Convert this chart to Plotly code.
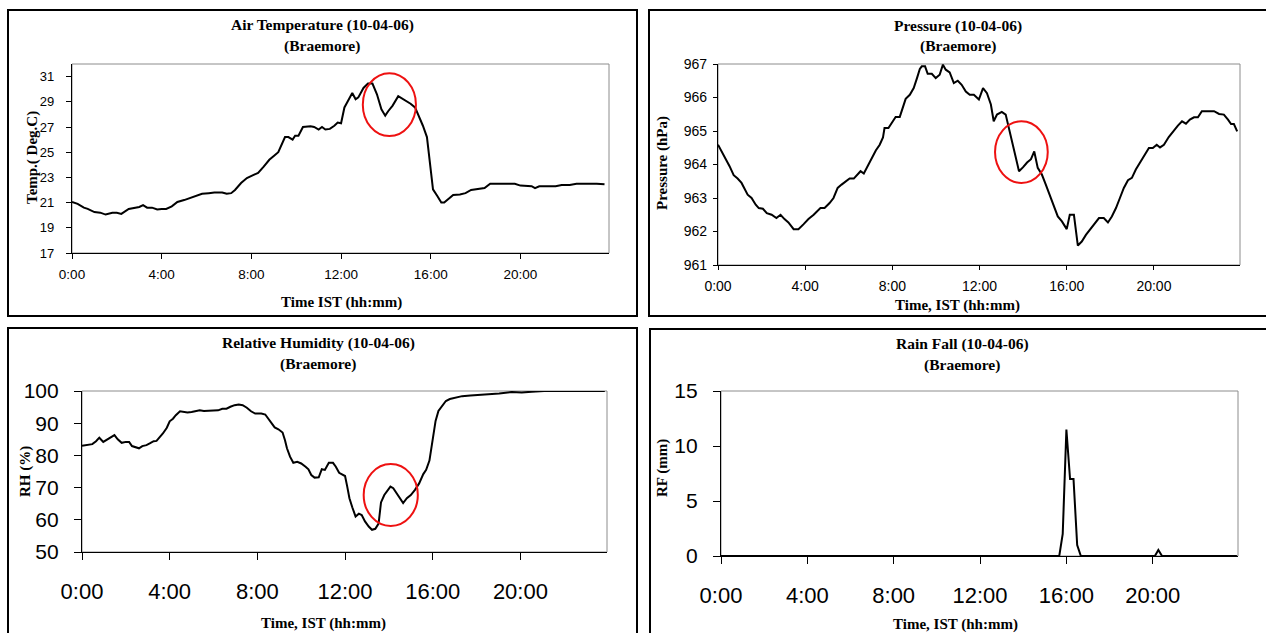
import plotly.graph_objects as go

W, H = 1266, 633

# ---- data (hours after midnight, IST) ----
temp_hours = [0, 0.25, 0.53, 0.7, 1.0, 1.26, 1.5, 1.8, 2.0, 2.2, 2.53, 2.8, 3.0, 3.17, 3.35, 3.57, 3.8, 4.0,
              4.2, 4.45, 4.7, 5.0, 5.26, 5.5, 5.8, 6.1, 6.35, 6.7, 6.9, 7.1, 7.27, 7.54, 7.8, 8.1, 8.3, 8.55,
              8.8, 9.0, 9.2, 9.5, 9.65, 9.84, 9.95, 10.1, 10.3, 10.64, 10.8, 11.0, 11.15, 11.3, 11.5, 11.7,
              11.85, 12.0, 12.15, 12.3, 12.5, 12.65, 12.77, 13.0, 13.2, 13.4, 13.6, 13.8, 13.97, 14.1, 14.3,
              14.55, 14.7, 14.9, 15.1, 15.3, 15.5, 15.65, 15.83, 15.95, 16.1, 16.3, 16.47, 16.6, 16.83, 17.0,
              17.3, 17.55, 17.8, 18.1, 18.4, 18.65, 19.0, 19.4, 19.75, 20.0, 20.3, 20.5, 20.65, 20.84, 21.2,
              21.57, 21.84, 22.2, 22.5, 22.85, 23.1, 23.4, 23.75]
temp_vals = [21.05, 20.9, 20.6, 20.5, 20.25, 20.2, 20.05, 20.2, 20.2, 20.1, 20.5, 20.6, 20.65, 20.8, 20.6, 20.6,
             20.45, 20.5, 20.5, 20.7, 21.05, 21.2, 21.35, 21.55, 21.7, 21.75, 21.8, 21.8, 21.7, 21.75, 22.0,
             22.55, 22.95, 23.2, 23.35, 23.85, 24.4, 24.7, 25.0, 26.2, 26.2, 26.0, 26.3, 26.3, 27.0, 27.05,
             27.0, 26.8, 27.0, 26.8, 26.85, 27.1, 27.35, 27.3, 28.55, 29.05, 29.7, 29.2, 29.35, 30.1, 30.45,
             30.45, 29.6, 28.4, 27.9, 28.25, 28.7, 29.45, 29.3, 29.1, 28.85, 28.55, 27.75, 27.1, 26.2, 24.15,
             22.05, 21.5, 21.0, 21.0, 21.35, 21.6, 21.65, 21.75, 22.0, 22.1, 22.15, 22.5, 22.5, 22.5, 22.5,
             22.35, 22.3, 22.3, 22.15, 22.3, 22.3, 22.3, 22.4, 22.4, 22.5, 22.5, 22.55, 22.5, 22.45]

pres_hours = [0, 0.17, 0.35, 0.53, 0.72, 0.9, 1.08, 1.2, 1.36, 1.54, 1.73, 1.87, 2.06, 2.24, 2.46, 2.68, 2.87,
              3.05, 3.23, 3.47, 3.69, 3.93, 4.15, 4.39, 4.57, 4.7, 4.89, 5.12, 5.3, 5.49, 5.67, 5.86, 6.04,
              6.23, 6.41, 6.54, 6.69, 6.87, 7.05, 7.24, 7.42, 7.57, 7.64, 7.82, 7.97, 8.15, 8.34, 8.48, 8.61,
              8.8, 8.98, 9.13, 9.26, 9.35, 9.5, 9.62, 9.81, 9.99, 10.17, 10.32, 10.45, 10.63, 10.82, 11.0,
              11.18, 11.37, 11.55, 11.74, 11.97, 12.16, 12.34, 12.52, 12.65, 12.8, 13.02, 13.2, 13.39, 13.57,
              13.81, 14.0, 14.18, 14.36, 14.51, 14.67, 14.86, 15.04, 15.22, 15.41, 15.59, 15.78, 16.0, 16.14,
              16.33, 16.51, 16.69, 16.88, 17.06, 17.25, 17.48, 17.7, 17.89, 18.07, 18.26, 18.44, 18.62, 18.81,
              18.99, 19.17, 19.36, 19.54, 19.77, 19.95, 20.13, 20.28, 20.46, 20.68, 20.88, 21.1, 21.29, 21.47,
              21.65, 21.84, 22.02, 22.2, 22.48, 22.76, 22.99, 23.21, 23.4, 23.54, 23.67, 23.82]
pres_vals = [964.59, 964.39, 964.14, 963.95, 963.68, 963.58, 963.45, 963.3, 963.1, 963.0, 962.8, 962.7, 962.68,
             962.55, 962.5, 962.4, 962.5, 962.37, 962.27, 962.07, 962.07, 962.22, 962.37, 962.5, 962.6, 962.7,
             962.7, 962.85, 963.0, 963.3, 963.4, 963.5, 963.58, 963.58, 963.7, 963.8, 963.73, 963.97, 964.2,
             964.42, 964.59, 964.81, 965.09, 965.09, 965.24, 965.42, 965.42, 965.74, 965.96, 966.08, 966.28,
             966.58, 966.85, 966.93, 966.93, 966.71, 966.71, 966.58, 966.68, 966.98, 966.83, 966.75, 966.43,
             966.5, 966.38, 966.18, 966.08, 966.08, 965.94, 966.28, 966.13, 965.79, 965.29, 965.49, 965.57,
             965.49, 964.99, 964.44, 963.8, 963.92, 964.06, 964.16, 964.39, 963.9, 963.7, 963.4, 963.1,
             962.75, 962.45, 962.3, 962.07, 962.5, 962.5, 961.58, 961.7, 961.9, 962.05, 962.22, 962.4, 962.4,
             962.27, 962.45, 962.7, 963.0, 963.3, 963.53, 963.6, 963.85, 964.05, 964.24, 964.49, 964.49,
             964.59, 964.51, 964.59, 964.82, 964.99, 965.16, 965.29, 965.22, 965.34, 965.41, 965.41, 965.59,
             965.59, 965.59, 965.51, 965.49, 965.34, 965.21, 965.21, 964.99]

rh_hours = [0, 0.22, 0.47, 0.64, 0.79, 0.97, 1.16, 1.35, 1.48, 1.63, 1.81, 2.0, 2.15, 2.28, 2.47, 2.6, 2.75,
            2.94, 3.09, 3.27, 3.4, 3.55, 3.69, 3.87, 4.0, 4.15, 4.28, 4.47, 4.62, 4.81, 5.0, 5.18, 5.37, 5.56,
            5.74, 5.93, 6.21, 6.4, 6.59, 6.77, 6.96, 7.15, 7.33, 7.52, 7.71, 7.9, 8.18, 8.36, 8.51, 8.64, 8.79,
            8.96, 9.15, 9.26, 9.35, 9.49, 9.64, 9.82, 10.0, 10.2, 10.33, 10.46, 10.61, 10.8, 10.94, 11.08,
            11.26, 11.45, 11.58, 11.73, 11.88, 12.0, 12.1, 12.2, 12.33, 12.48, 12.63, 12.76, 12.91, 13.08,
            13.23, 13.38, 13.53, 13.64, 13.79, 13.94, 14.07, 14.2, 14.35, 14.5, 14.65, 14.82, 15.0, 15.19,
            15.38, 15.57, 15.7, 15.85, 16.0, 16.13, 16.26, 16.41, 16.6, 16.78, 17.06, 17.34, 17.72, 18.19,
            18.65, 19.03, 19.59, 20.06, 20.52, 21.08, 22.0, 23.0, 23.85]
rh_vals = [83.0, 83.2, 83.5, 84.4, 85.5, 84.2, 85.0, 85.8, 86.3, 85.0, 83.9, 84.2, 84.2, 82.9, 82.4, 82.2,
           82.9, 83.2, 83.7, 84.4, 84.5, 85.6, 86.8, 88.6, 90.6, 91.4, 92.5, 93.7, 93.5, 93.3, 93.5, 93.7, 94.0,
           93.8, 93.8, 94.0, 94.0, 94.5, 94.5, 95.1, 95.6, 95.8, 95.6, 94.8, 93.7, 93.0, 93.0, 92.7, 91.4,
           89.9, 88.7, 88.1, 87.1, 84.7, 82.2, 79.6, 77.7, 78.0, 77.5, 76.5, 75.7, 73.9, 73.1, 73.2, 75.7,
           75.5, 77.7, 77.7, 76.5, 74.6, 73.9, 73.6, 70.3, 66.7, 63.9, 61.0, 61.9, 61.5, 59.5, 57.9, 56.9,
           57.2, 58.8, 65.4, 67.7, 69.3, 70.3, 69.8, 68.2, 66.7, 65.2, 66.7, 67.7, 69.3, 71.3, 74.2, 75.5,
           78.4, 84.7, 90.7, 93.8, 95.3, 96.9, 97.5, 97.9, 98.4, 98.6, 98.8, 99.0, 99.2, 99.7, 99.5, 99.8,
           100, 100, 100, 100]

rf_hours = [0, 15.67, 15.83, 16.0, 16.17, 16.33, 16.5, 16.67, 20.1, 20.26, 20.43, 23.9]
rf_vals = [0, 0, 2.0, 11.5, 7.0, 7.0, 1.0, 0, 0, 0.55, 0, 0]

hour_ticks = [0, 4, 8, 12, 16, 20]
hour_labels = ["0:00", "4:00", "8:00", "12:00", "16:00", "20:00"]

# red rings around the feature near 14:00  (x0, x1, y0, y1 in data units)
temp_ring = [12.97, 15.34, 26.28, 31.27]
pres_ring = [12.71, 15.13, 963.45, 965.29]
rh_ring = [12.85, 15.32, 58.1, 77.3]


def fx(p):
    return p / W


def fy(p):
    return 1 - p / H


SERIF = "Liberation Serif, Times New Roman, serif"
SANS = "Liberation Sans, Arial, sans-serif"

# pixel boxes of each plot area: left, right, top, bottom
panels = [
    dict(box=(72, 609, 64, 253), yr=[17, 32], dt=2, t0=17, tf=13.5, ytf=13, tl=5,
         ystand=9, xstand=4,
         title="Air Temperature (10-04-06)", tpos=(322, 25, 46),
         xt="Time IST (hh:mm)", xtpos=(341, 302), yt="Temp.( Deg.C)", ytpos=(32, 158)),
    dict(box=(718, 1240, 64, 265), yr=[961, 967], dt=1, t0=961, tf=14, ytf=14, tl=4,
         ystand=3, xstand=4,
         title="Pressure (10-04-06)", tpos=(958, 26, 46),
         xt="Time, IST (hh:mm)", xtpos=(957, 305), yt="Pressure (hPa)", ytpos=(662, 163)),
    dict(box=(82, 607, 391, 552), yr=[50, 100], dt=10, t0=50, tf=22, ytf=21, tl=7,
         ystand=11, xstand=12,
         title="Relative Humidity (10-04-06)", tpos=(318, 343, 364),
         xt="Time, IST (hh:mm)", xtpos=(323, 623), yt="RH (%)", ytpos=(25, 472)),
    dict(box=(721, 1238, 391, 556), yr=[0, 15], dt=5, t0=0, tf=22, ytf=21, tl=7,
         ystand=11, xstand=12,
         title="Rain Fall (10-04-06)", tpos=(962, 344, 365),
         xt="Time, IST (hh:mm)", xtpos=(956, 624), yt="RF (mm)", ytpos=(662, 468)),
]

series = [(temp_hours, temp_vals), (pres_hours, pres_vals), (rh_hours, rh_vals), (rf_hours, rf_vals)]
rings = [temp_ring, pres_ring, rh_ring, None]

fig = go.Figure()
layout = {}
shapes = []
annotations = []

for i, (p, (xs, ys), ring) in enumerate(zip(panels, series, rings)):
    n = "" if i == 0 else str(i + 1)
    l, r, t, b = p["box"]
    fig.add_trace(go.Scatter(x=xs, y=ys, mode="lines", line=dict(color="black", width=2),
                             xaxis="x" + n, yaxis="y" + n, showlegend=False, hoverinfo="skip"))
    layout["xaxis" + n] = dict(
        domain=[fx(l), fx(r)], range=[0, 23.95], anchor="y" + n,
        tickmode="array", tickvals=hour_ticks, ticktext=hour_labels,
        ticks="outside", ticklen=p["tl"], tickcolor="black", tickwidth=1,
        showline=True, linecolor="black", linewidth=1.2, showgrid=False, zeroline=False,
        tickfont=dict(family=SANS, size=p["tf"], color="black"), ticklabelstandoff=p["xstand"],
        fixedrange=True, automargin=False,
    )
    layout["yaxis" + n] = dict(
        domain=[fy(b), fy(t)], range=p["yr"], anchor="x" + n,
        tick0=p["t0"], dtick=p["dt"],
        ticks="outside", ticklen=p["tl"], tickcolor="black", tickwidth=1,
        showline=True, linecolor="black", linewidth=1.2, showgrid=False, zeroline=False,
        tickfont=dict(family=SANS, size=p["ytf"], color="black"), ticklabelstandoff=p["ystand"],
        fixedrange=True, automargin=False,
    )
    # light frame on top / right of the plot area
    shapes.append(dict(type="rect", xref="x" + n + " domain", yref="y" + n + " domain",
                       x0=0, x1=1, y0=0, y1=1, line=dict(color="#8c8c8c", width=1), layer="below"))
    if ring:
        shapes.append(dict(type="circle", xref="x" + n, yref="y" + n,
                           x0=ring[0], x1=ring[1], y0=ring[2], y1=ring[3],
                           line=dict(color="#ee1111", width=2)))
    cx, y1, y2 = p["tpos"]
    for txt, yy in ((p["title"], y1), ("(Braemore)", y2)):
        annotations.append(dict(text="<b>" + txt + "</b>", x=fx(cx), y=fy(yy), xref="paper", yref="paper",
                                showarrow=False, xanchor="center", yanchor="middle",
                                font=dict(family=SERIF, size=15.5, color="black")))
    annotations.append(dict(text="<b>" + p["xt"] + "</b>", x=fx(p["xtpos"][0]), y=fy(p["xtpos"][1]),
                            xref="paper", yref="paper", showarrow=False, xanchor="center", yanchor="middle",
                            font=dict(family=SERIF, size=15, color="black")))
    annotations.append(dict(text="<b>" + p["yt"] + "</b>", x=fx(p["ytpos"][0]), y=fy(p["ytpos"][1]),
                            xref="paper", yref="paper", showarrow=False, xanchor="center", yanchor="middle",
                            textangle=-90, font=dict(family=SERIF, size=15, color="black")))

# outer chart borders
for x0, x1, y0, y1 in [(8, 637, 10, 316), (649, 1275, 10, 316), (8, 637, 328, 645), (650, 1275, 329, 645)]:
    shapes.append(dict(type="rect", xref="paper", yref="paper", x0=fx(x0), x1=fx(x1), y0=fy(y1), y1=fy(y0),
                       line=dict(color="black", width=2)))

fig.update_layout(
    width=W, height=H, margin=dict(l=0, r=0, t=0, b=0, autoexpand=False),
    paper_bgcolor="white", plot_bgcolor="white",
    shapes=shapes, annotations=annotations, **layout,
)

# page body has a default 8px margin; drop it so the figure sits at the window corner
fig.write_html("out.html", config={"displayModeBar": False},
               post_script="document.body.style.margin='0';")
